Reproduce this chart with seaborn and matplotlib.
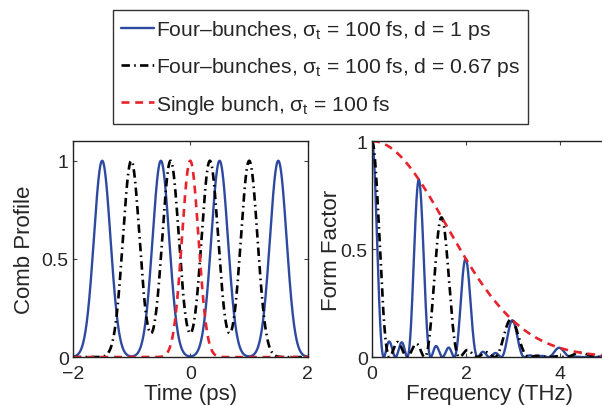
import matplotlib
matplotlib.use("Agg")
import matplotlib.pyplot as plt
import numpy as np
import pandas as pd
import seaborn as sns

SIGMA_T = 0.1
CENTERS_D1 = [-1.5, -0.5, 0.5, 1.5]
CENTERS_D067 = [-1.005, -0.335, 0.335, 1.005]
CENTERS_SINGLE = [0.0]

LABELS = [
    r"Four–bunches, $\sigma_t$ = 100 fs, d = 1 ps",
    r"Four–bunches, $\sigma_t$ = 100 fs, d = 0.67 ps",
    r"Single bunch, $\sigma_t$ = 100 fs",
]

TIME_RANGE = (-2.0, 2.0)
FREQ_RANGE = (0.0, 5.0)


def comb_profile(t, centers, sigma):
    # profile drawn with width sqrt(2)*sigma
    return sum(np.exp(-(t - c) ** 2 / (4 * sigma ** 2)) for c in centers)


def form_factor(f, centers, sigma):
    af = np.abs(np.mean([np.exp(2j * np.pi * f * c) for c in centers], axis=0)) ** 2
    return af * np.exp(-(2 * np.pi * f * sigma) ** 2 / 2)


sns.set_theme(style="ticks")
plt.rcParams["font.family"] = ["Liberation Sans", "DejaVu Sans"]
plt.rcParams["mathtext.fontset"] = "custom"
plt.rcParams["mathtext.rm"] = "Liberation Sans"
plt.rcParams["mathtext.it"] = "Liberation Sans"
plt.rcParams["axes.linewidth"] = 1.0
plt.rcParams["axes.edgecolor"] = "#222222"

t = np.linspace(*TIME_RANGE, 1601)
f = np.linspace(*FREQ_RANGE, 2001)
sets = [CENTERS_D1, CENTERS_D067, CENTERS_SINGLE]

styles = [
    dict(color="#2d4aa0", linestyle="-", linewidth=1.7),
    dict(color="black", linestyle=(0, (3.2, 1.6, 0.6, 1.6)), linewidth=1.9),
    dict(color="#e8232b", linestyle=(0, (3.0, 2.2)), linewidth=1.9),
]

prof_df = pd.concat(
    [pd.DataFrame({"t": t, "v": comb_profile(t, c, SIGMA_T), "s": lab}) for c, lab in zip(sets, LABELS)]
)
ff_df = pd.concat(
    [pd.DataFrame({"f": f, "v": form_factor(f, c, SIGMA_T), "s": lab}) for c, lab in zip(sets, LABELS)]
)

fig = plt.figure(figsize=(6.02, 4.06), dpi=100)
ax1 = fig.add_axes([0.121, 0.118, 0.390, 0.532])
ax2 = fig.add_axes([0.618, 0.118, 0.390, 0.532])

handles = []
for lab, st in zip(LABELS, styles):
    sns.lineplot(data=prof_df[prof_df["s"] == lab], x="t", y="v", ax=ax1, **st)
    sns.lineplot(data=ff_df[ff_df["s"] == lab], x="f", y="v", ax=ax2, **st)
    handles.append(ax1.lines[-1])

ax1.set_xlim(*TIME_RANGE)
ax1.set_ylim(0, 1.1)
ax1.set_xticks([-2, 0, 2])
ax1.set_yticks([0, 0.5, 1])
ax1.set_yticklabels(["0", "0.5", "1"])
ax1.set_xlabel("Time (ps)", fontsize=16)
ax1.set_ylabel("Comb Profile", fontsize=16)
ax1.xaxis.set_label_coords(0.5, -0.122)
ax1.yaxis.set_label_coords(-0.162, 0.5)

ax2.set_xlim(*FREQ_RANGE)
ax2.set_ylim(0, 1)
ax2.set_xticks([0, 2, 4])
ax2.set_yticks([0, 0.5, 1])
ax2.set_yticklabels(["0", "0.5", "1"])
ax2.set_xlabel("Frequency (THz)", fontsize=16)
ax2.set_ylabel("Form Factor", fontsize=16)
ax2.xaxis.set_label_coords(0.5, -0.122)
ax2.yaxis.set_label_coords(-0.128, 0.5)

for ax in (ax1, ax2):
    ax.tick_params(direction="in", top=True, right=True, length=3, width=0.8,
                   labelsize=14, color="#444444")
    ax.tick_params(axis="x", pad=6)
    ax.tick_params(axis="y", pad=3)
    for sp in ax.spines.values():
        sp.set_visible(True)

leg = fig.legend(handles, LABELS, loc="upper left", bbox_to_anchor=(0.188, 0.973),
                 fontsize=15.2, frameon=True, fancybox=False, edgecolor="black",
                 handlelength=1.55, handletextpad=0.08, labelspacing=0.68,
                 borderpad=0.38, borderaxespad=0)
leg.get_frame().set_linewidth(1.0)

fig.savefig("out.png", dpi=100)
